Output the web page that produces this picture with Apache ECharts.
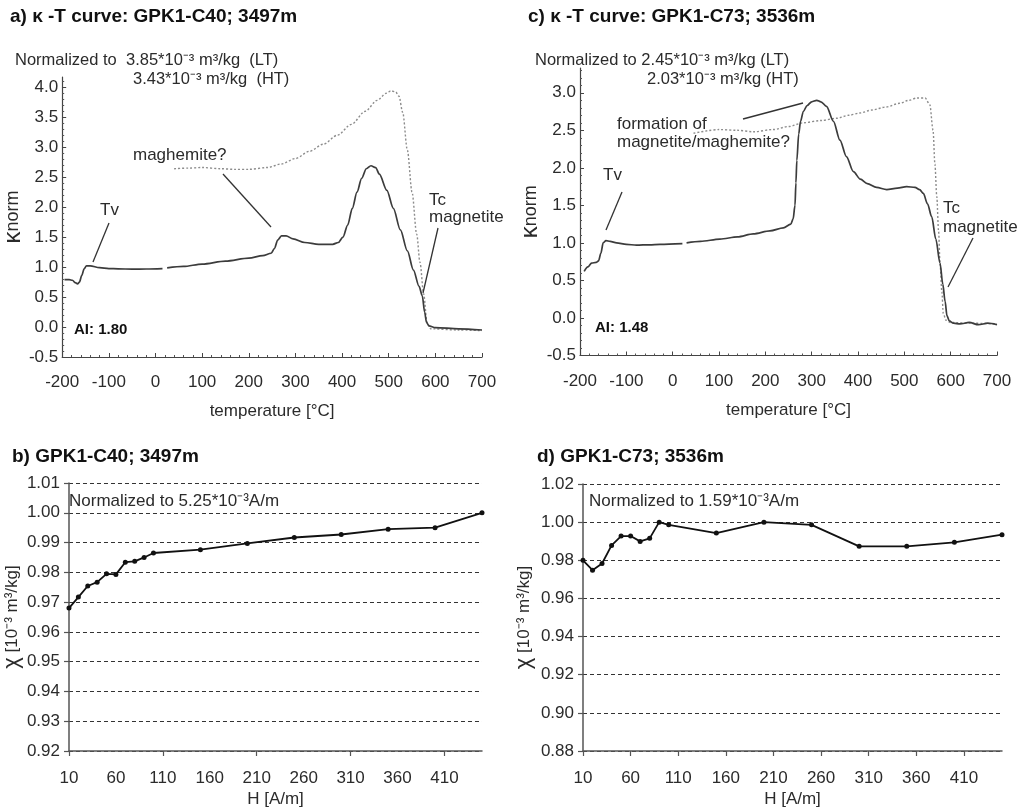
<!DOCTYPE html>
<html>
<head>
<meta charset="utf-8">
<script src="https://cdn.jsdelivr.net/npm/echarts@6/dist/echarts.min.js"></script>
<style>
  html, body { margin: 0; padding: 0; background: #fff; }
  #chart { width: 1032px; height: 809px; }
</style>
</head>
<body>
<div id="chart"></div>
<script>
// ---- kappa-T curves (normalised bulk susceptibility vs temperature) ----
const tempTicks = [-200, -100, 0, 100, 200, 300, 400, 500, 600, 700];
const kappaTicksA = [-0.5, 0, 0.5, 1, 1.5, 2, 2.5, 3, 3.5, 4];
const kappaTicksC = [-0.5, 0, 0.5, 1, 1.5, 2, 2.5, 3];

// GPK1-C40, heating run (low-temperature segment, gap, high-temperature segment)
const c40HeatT = [-195, -185, -178, -172, -167, -163, -158, -153, -148, -140, -120, -100, -80, -50, -20, 15, 20,
  25, 60, 100, 150, 200, 230, 248, 255, 262, 270, 280, 295, 320, 350, 380, 392, 402, 412, 422, 432, 442, 452, 462, 472,
  480, 496, 510, 525, 540, 553, 565, 572, 577, 581, 586, 600, 650, 700];
const c40HeatK = [0.79, 0.79, 0.78, 0.74, 0.72, 0.75, 0.86, 0.97, 1.02, 1.02, 0.99, 0.975, 0.97, 0.965, 0.968, 0.975, null,
  0.985, 1.01, 1.05, 1.10, 1.15, 1.19, 1.23, 1.31, 1.45, 1.52, 1.52, 1.47, 1.41, 1.38, 1.38, 1.41, 1.50, 1.70, 1.98, 2.25, 2.48, 2.64, 2.69, 2.66,
  2.55, 2.28, 1.98, 1.62, 1.27, 0.95, 0.68, 0.52, 0.25, 0.08, 0.02, -0.01, -0.03, -0.05];
// GPK1-C40, cooling run
const c40CoolT = [40, 70, 100, 140, 170, 200, 240, 270, 300, 330, 360, 390, 420, 450, 475, 495, 505, 515, 522,
  530, 540, 550, 560, 567, 575, 582, 590, 650, 700];
const c40CoolK = [2.64, 2.65, 2.66, 2.64, 2.63, 2.63, 2.66, 2.72, 2.81, 2.93, 3.05, 3.20, 3.38, 3.60, 3.78, 3.90, 3.94, 3.92, 3.85,
  3.58, 2.95, 2.25, 1.55, 1.08, 0.55, 0.08, -0.03, -0.05, -0.06];

// GPK1-C73, heating run
const c73HeatT = [-191, -183, -175, -165, -160, -155, -150, -144, -135, -121, -100, -78, -50, -27, 21, 26,
  30, 60, 102, 140, 174, 210, 239, 255, 260, 264, 266, 268, 272, 276, 282, 290, 300, 311, 320, 332, 347, 361,
  375, 390, 405, 420, 440, 462, 485, 505, 523, 533, 541, 550, 559, 568, 577, 583, 588, 592, 597, 606, 620,
  640, 660, 680, 700];
const c73HeatK = [0.62, 0.68, 0.73, 0.74, 0.76, 0.86, 1.00, 1.03, 1.02, 1.00, 0.98, 0.97, 0.975, 0.98, 0.99, null,
  1.00, 1.02, 1.05, 1.08, 1.12, 1.16, 1.20, 1.25, 1.32, 1.50, 1.80, 2.10, 2.45, 2.62, 2.75, 2.83, 2.88, 2.90, 2.88, 2.82, 2.62, 2.37,
  2.15, 1.95, 1.85, 1.79, 1.74, 1.71, 1.73, 1.75, 1.74, 1.71, 1.66, 1.52, 1.35, 1.05, 0.73, 0.45, 0.22, 0.03, -0.04, -0.07, -0.08,
  -0.06, -0.09, -0.07, -0.09];
// GPK1-C73, cooling run
const c73CoolT = [45, 100, 140, 174, 217, 250, 282, 320, 354, 380, 404, 430, 460, 490, 510, 527, 545, 555,
  562, 566, 570, 574, 577, 581, 584, 590, 600, 650, 700];
const c73CoolK = [2.46, 2.51, 2.50, 2.48, 2.51, 2.55, 2.60, 2.63, 2.66, 2.70, 2.73, 2.77, 2.81, 2.86, 2.90, 2.93, 2.93, 2.84,
  2.50, 2.05, 1.62, 1.15, 0.73, 0.35, 0.06, -0.03, -0.06, -0.07, -0.08];

// ---- field dependence of susceptibility ----
const fieldLabels = [10, 60, 110, 160, 210, 260, 310, 360, 410];
const fieldTicksB = [10, 110, 210, 310, 410];
const fieldTicksD = [10, 60, 110, 160, 210, 260, 310, 360, 410];

const c40Field = [10, 20, 30, 40, 50, 60, 70, 80, 90, 100, 150, 200, 250, 300, 350, 400, 450];
const c40Chi = [0.968, 0.9717, 0.9754, 0.9767, 0.9795, 0.9793, 0.9834, 0.9837, 0.9850, 0.9865, 0.9876, 0.9897,
  0.9917, 0.9927, 0.9945, 0.9950, 1.000];

const c73Field = [10, 20, 30, 40, 50, 60, 70, 80, 90, 100, 150, 200, 250, 300, 350, 400, 450];
const c73Chi = [0.980, 0.9748, 0.9783, 0.9878, 0.9927, 0.9927, 0.9899, 0.9915, 1.000, 0.9986, 0.9943, 1.000,
  0.9986, 0.9873, 0.9873, 0.9894, 0.9934];

// -------------------------------------------------------------------------
const FONT = '"Liberation Sans", Arial, Helvetica, sans-serif';
const INK = '#2b2b2b';

function zip(xs, ys) {
  return xs.map((x, i) => [x, ys[i] === null ? '-' : ys[i]]);
}

const axisLineStyle = { show: true, onZero: false, lineStyle: { color: '#444', width: 1.2 } };

function tempAxis(grid) {
  return {
    type: 'value', gridIndex: grid, min: -200, max: 700, interval: 100,
    axisLine: axisLineStyle,
    axisTick: { show: true, inside: true, length: 4, customValues: tempTicks, lineStyle: { color: '#444' } },
    minorTick: { show: true, splitNumber: 5, length: 2, lineStyle: { color: '#555' } },
    axisLabel: { customValues: tempTicks, margin: 17, fontSize: 17, fontFamily: FONT, color: INK },
    splitLine: { show: false },
    name: 'temperature [°C]', nameLocation: 'middle', nameGap: 46,
    nameTextStyle: { fontSize: 17, fontFamily: FONT, color: INK }
  };
}

function kappaAxis(grid, max, ticks, gap) {
  return {
    type: 'value', gridIndex: grid, min: -0.5, max: max, interval: 0.5,
    axisLine: axisLineStyle,
    axisTick: { show: true, inside: true, length: 4, customValues: ticks, lineStyle: { color: '#444' } },
    minorTick: { show: true, splitNumber: 5, length: 2, lineStyle: { color: '#555' } },
    axisLabel: { customValues: ticks, margin: 4, fontSize: 17, fontFamily: FONT, color: INK,
      formatter: v => v.toFixed(1) },
    splitLine: { show: false },
    name: '{k|κ}{n|norm}', nameLocation: 'middle', nameGap: gap,
    nameTextStyle: { fontFamily: FONT, color: INK,
      rich: { k: { fontSize: 24, fontFamily: FONT, color: INK }, n: { fontSize: 18, fontFamily: FONT, color: INK } } }
  };
}

function fieldAxis(grid, ticks) {
  return {
    type: 'value', gridIndex: grid, min: 10, max: 450,
    axisLine: { show: true, onZero: false, lineStyle: { color: '#555', width: 1.5 } },
    axisTick: { show: true, length: 5, customValues: ticks, lineStyle: { color: '#555', width: 1.2 } },
    axisLabel: { customValues: fieldLabels, margin: 19, fontSize: 17, fontFamily: FONT, color: INK },
    splitLine: { show: false },
    name: 'H [A/m]', nameLocation: 'middle', nameGap: 40,
    nameTextStyle: { fontSize: 17, fontFamily: FONT, color: INK }
  };
}

function chiAxis(grid, min, max, step, gap) {
  return {
    type: 'value', gridIndex: grid, min: min, max: max, interval: step,
    axisLine: { show: true, onZero: false, lineStyle: { color: '#555', width: 1.5 } },
    axisTick: { show: true, length: 5, lineStyle: { color: '#555', width: 1.2 } },
    axisLabel: { margin: 9, fontSize: 17, fontFamily: FONT, color: INK, formatter: v => v.toFixed(2) },
    splitLine: { show: true, lineStyle: { color: '#333', width: 1.1, type: [4, 3] } },
    name: '{c|χ}{n| [10⁻³ m³/kg]}', nameLocation: 'middle', nameGap: gap,
    nameTextStyle: { fontFamily: FONT, color: INK,
      rich: { c: { fontSize: 22, fontFamily: FONT, color: INK }, n: { fontSize: 17, fontFamily: FONT, color: INK } } }
  };
}

const heatLine = { color: '#3c3c3c', width: 1.7 };
const coolLine = { color: '#8c8c8c', width: 1.4, type: [2, 2] };

function curve(grid, xs, ys, style) {
  return {
    type: 'line', xAxisIndex: grid, yAxisIndex: grid, data: zip(xs, ys),
    showSymbol: false, smooth: 0.3, smoothMonotone: 'x', connectNulls: false,
    lineStyle: style, itemStyle: { color: style.color }, silent: true, z: style.type ? 2 : 3
  };
}

function points(grid, xs, ys) {
  return {
    type: 'line', xAxisIndex: grid, yAxisIndex: grid, data: zip(xs, ys),
    symbol: 'circle', symbolSize: 5, showSymbol: true,
    lineStyle: { color: '#111', width: 1.8 }, itemStyle: { color: '#111' }, silent: true
  };
}

function txt(text, x, y, opt) {
  opt = opt || {};
  return {
    type: 'text', silent: true, z: 10,
    style: {
      text: text, x: x, y: y, fill: opt.fill || INK,
      font: (opt.bold ? 'bold ' : '') + (opt.size || 17) + 'px ' + FONT,
      align: opt.align || 'left', verticalAlign: 'middle'
    }
  };
}

function lead(x1, y1, x2, y2) {
  return { type: 'line', silent: true, z: 10, shape: { x1, y1, x2, y2 }, style: { stroke: '#333', lineWidth: 1.3 } };
}

const option = {
  animation: false,
  backgroundColor: '#fff',
  grid: [
    { left: 61, top: 77, width: 421, height: 280 },
    { left: 580, top: 68, width: 417, height: 287.5 },
    { left: 63, top: 483, width: 419, height: 268 },
    { left: 583, top: 484, width: 419, height: 269 }
  ],
  xAxis: [tempAxis(0), tempAxis(1), fieldAxis(2, fieldTicksB), fieldAxis(3, fieldTicksD)],
  yAxis: [
    kappaAxis(0, 4.17, kappaTicksA, 27),
    kappaAxis(1, 3.33, kappaTicksC, 31),
    chiAxis(2, 0.92, 1.01, 0.01, 41),
    chiAxis(3, 0.88, 1.02, 0.02, 48)
  ],
  series: [
    curve(0, c40CoolT, c40CoolK, coolLine),
    curve(0, c40HeatT, c40HeatK, heatLine),
    curve(1, c73CoolT, c73CoolK, coolLine),
    curve(1, c73HeatT, c73HeatK, heatLine),
    points(2, c40Field, c40Chi),
    points(3, c73Field, c73Chi)
  ],
  graphic: [
    // panel titles
    txt('a) κ -T curve: GPK1-C40; 3497m', 10, 17, { bold: true, size: 19, fill: '#111' }),
    txt('c) κ -T curve: GPK1-C73; 3536m', 528, 17, { bold: true, size: 19, fill: '#111' }),
    txt('b) GPK1-C40; 3497m', 12, 457, { bold: true, size: 19, fill: '#111' }),
    txt('d) GPK1-C73; 3536m', 537, 457, { bold: true, size: 19, fill: '#111' }),

    // normalisation notes
    txt('Normalized to  3.85*10⁻³ m³/kg  (LT)', 15, 60, { size: 16.5 }),
    txt('3.43*10⁻³ m³/kg  (HT)', 133, 79, { size: 16.5 }),
    txt('Normalized to 2.45*10⁻³ m³/kg (LT)', 535, 60, { size: 16.5 }),
    txt('2.03*10⁻³ m³/kg (HT)', 647, 79, { size: 16.5 }),
    txt('Normalized to 5.25*10⁻³A/m', 69, 501),
    txt('Normalized to 1.59*10⁻³A/m', 589, 501),

    // alteration index
    txt('AI: 1.80', 74, 330, { bold: true, size: 15, fill: '#111' }),
    txt('AI: 1.48', 595, 328, { bold: true, size: 15, fill: '#111' }),

    // annotations, panel a
    txt('Tv', 100, 210),
    lead(109, 223, 93, 262),
    txt('maghemite?', 133, 155),
    lead(223, 174, 271, 227),
    txt('Tc', 429, 200),
    txt('magnetite', 429, 217),
    lead(438, 228, 423, 293),

    // annotations, panel c
    txt('Tv', 603, 175),
    lead(622, 192, 606, 230),
    txt('formation of', 617, 124),
    txt('magnetite/maghemite?', 617, 142),
    lead(743, 119, 803, 103),
    txt('Tc', 943, 208),
    txt('magnetite', 943, 227),
    lead(973, 238, 948, 287)
  ]
};

const chart = echarts.init(document.getElementById('chart'), null, { renderer: 'canvas' });
chart.setOption(option);
</script>
</body>
</html>
